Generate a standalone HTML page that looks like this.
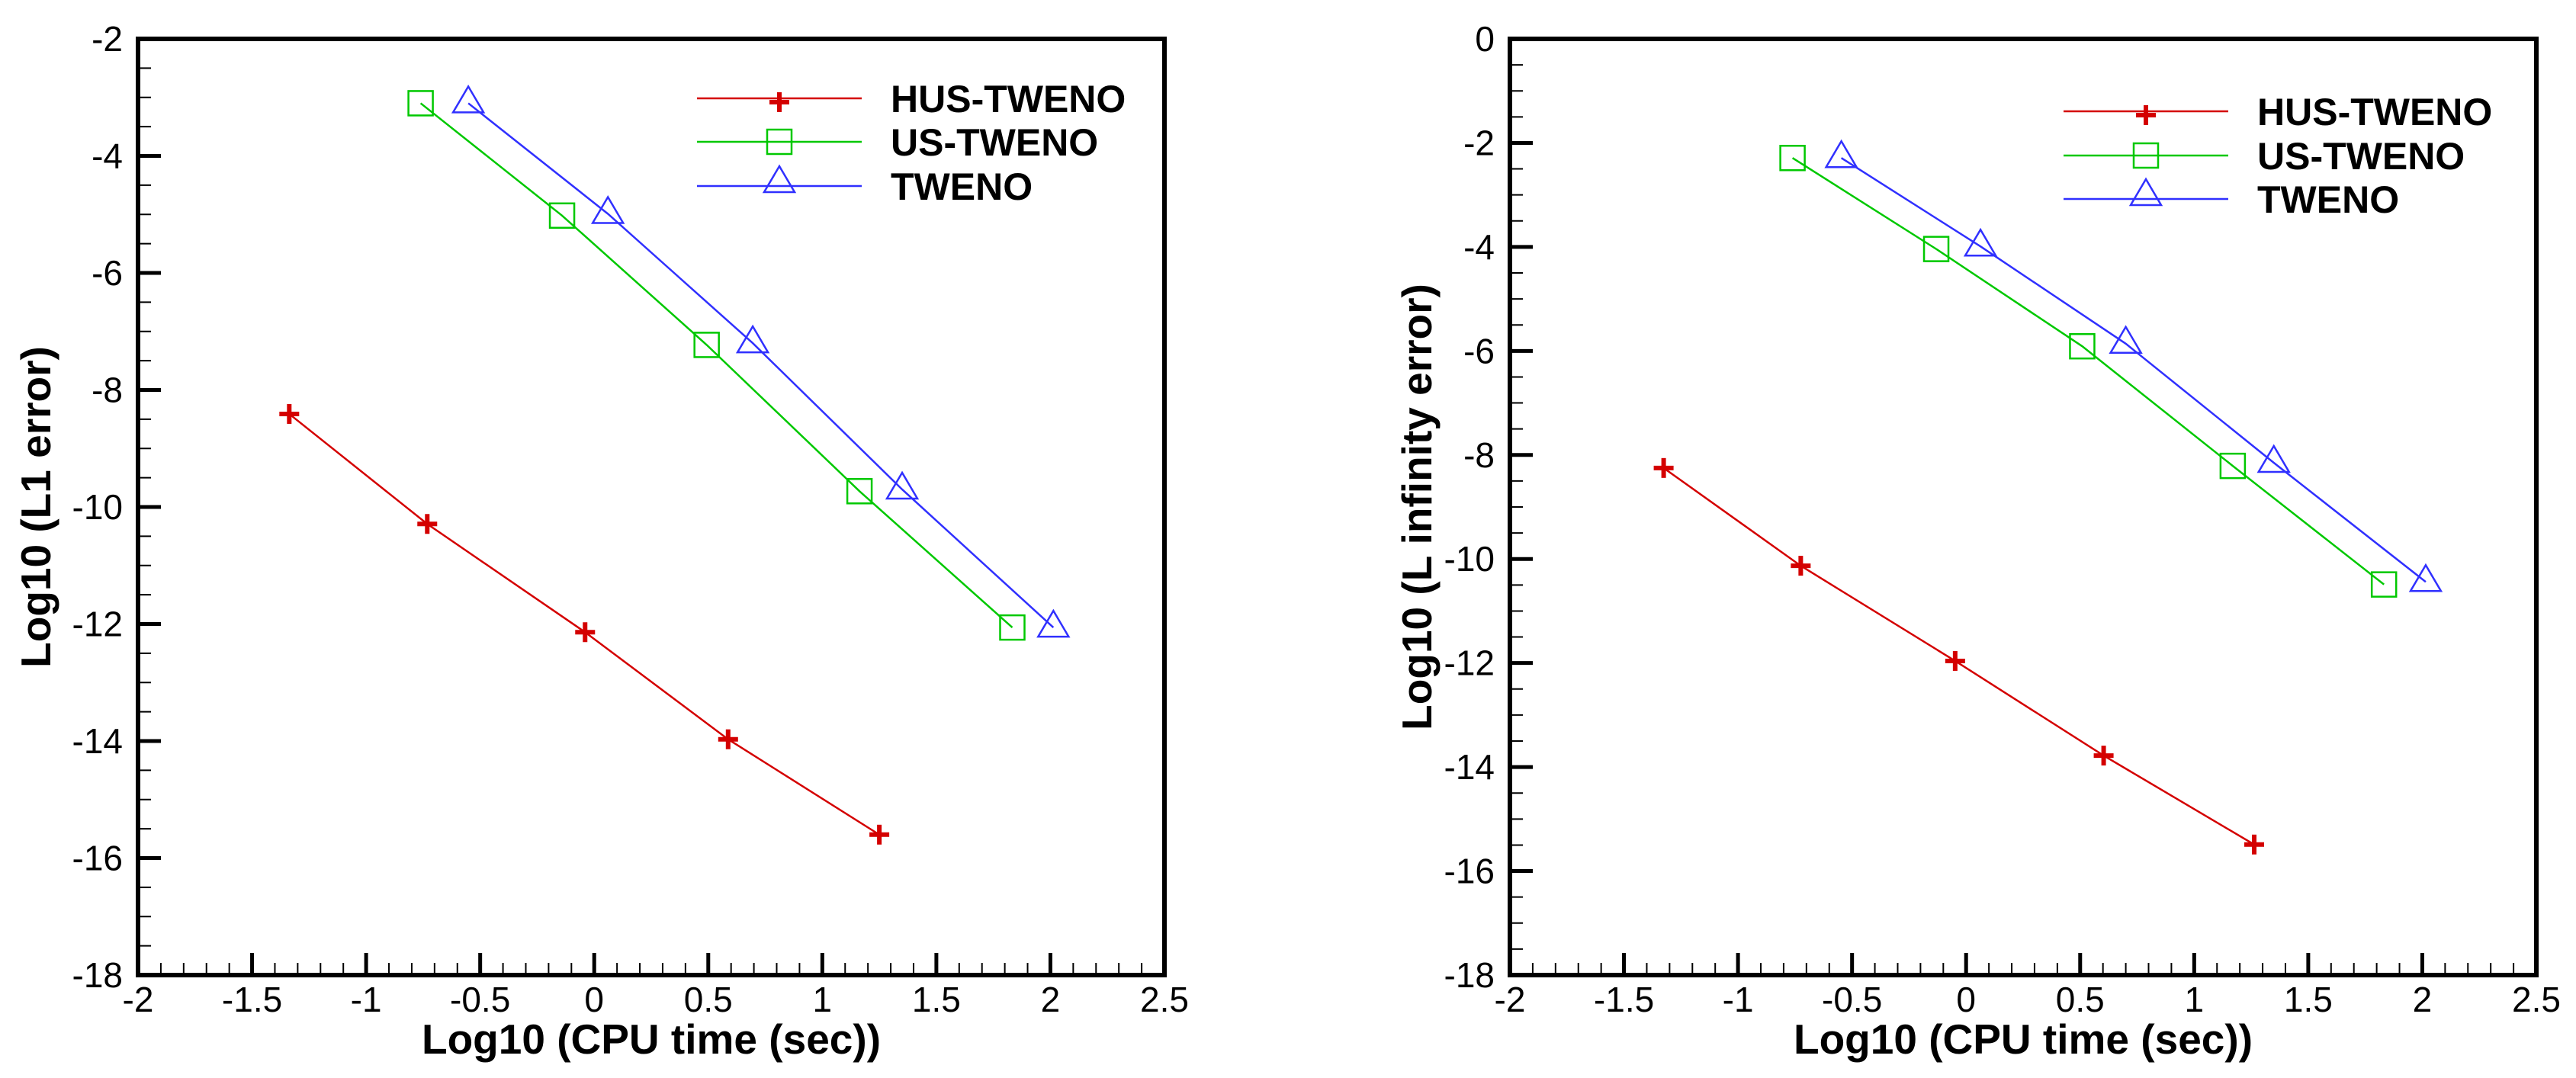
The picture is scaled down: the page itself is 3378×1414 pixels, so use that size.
<!DOCTYPE html>
<html><head><meta charset="utf-8"><style>
html,body{margin:0;padding:0;background:#fff;}
svg{display:block;font-family:"Liberation Sans",Arial,sans-serif;}
</style></head><body>
<svg id="chart" width="3378" height="1414" viewBox="0 0 3378 1414" xmlns="http://www.w3.org/2000/svg"></svg>
<script>
// ---- data ----
const seriesNames = ["HUS-TWENO", "US-TWENO", "TWENO"];
const xTicks = [-2, -1.5, -1, -0.5, 0, 0.5, 1, 1.5, 2, 2.5];
const xTickLabels = ["-2", "-1.5", "-1", "-0.5", "0", "0.5", "1", "1.5", "2", "2.5"];
const leftYTicks = [-2, -4, -6, -8, -10, -12, -14, -16, -18];
const rightYTicks = [0, -2, -4, -6, -8, -10, -12, -14, -16, -18];
// left panel (L1 error)
const l1HusX = [-1.337, -0.732, -0.04, 0.587, 1.25];
const l1HusY = [-8.41, -10.29, -12.14, -13.97, -15.6];
const l1UsX = [-0.761, -0.141, 0.493, 1.163, 1.833];
const l1UsY = [-3.1, -5.02, -7.23, -9.73, -12.06];
const l1TwX = [-0.552, 0.06, 0.695, 1.35, 2.013];
const l1TwY = [-3.1, -4.99, -7.2, -9.7, -12.06];
// right panel (L infinity error)
const liHusX = [-1.326, -0.725, -0.048, 0.603, 1.263];
const liHusY = [-8.25, -10.13, -11.96, -13.78, -15.49];
const liUsX = [-0.761, -0.131, 0.509, 1.169, 1.832];
const liUsY = [-2.29, -4.04, -5.91, -8.21, -10.49];
const liTwX = [-0.547, 0.063, 0.70, 1.349, 2.015];
const liTwY = [-2.29, -3.99, -5.86, -8.15, -10.44];

const NS = "http://www.w3.org/2000/svg";
const svg = document.getElementById("chart");
const colors = ["#d40000", "#00c800", "#3030ff"];
function mk(tag, attrs, parent) {
  const e = document.createElementNS(NS, tag);
  for (const k in attrs) e.setAttribute(k, attrs[k]);
  (parent || svg).appendChild(e);
  return e;
}
function marker(g, type, cx, cy, color) {
  if (type === 0) {
    mk("line", {x1: cx - 13, y1: cy, x2: cx + 13, y2: cy, stroke: color, "stroke-width": 6}, g);
    mk("line", {x1: cx, y1: cy - 13, x2: cx, y2: cy + 13, stroke: color, "stroke-width": 6}, g);
  } else if (type === 1) {
    mk("rect", {x: cx - 16, y: cy - 16, width: 32, height: 32, fill: "none", stroke: color, "stroke-width": 2.5}, g);
  } else {
    mk("polygon", {points: (cx) + "," + (cy - 22) + " " + (cx - 20) + "," + (cy + 12) + " " + (cx + 20) + "," + (cy + 12), fill: "none", stroke: color, "stroke-width": 2.5}, g);
  }
}
function panel(opts) {
  const L = opts.left, R = opts.left + 1346, T = 51, B = 1279;
  const xmin = -2, xmax = 2.5, ymax = opts.ymax, ymin = -18;
  const sx = v => L + (v - xmin) / (xmax - xmin) * (R - L);
  const sy = v => T + (ymax - v) / (ymax - ymin) * (B - T);
  const g = mk("g", {});
  
  
  // x ticks
  for (let i = 0; i <= 45; i++) {
    const v = xmin + i * 0.1;
    const major = i % 5 === 0;
    const t = mk("line", {x1: sx(v), x2: sx(v), y1: B, y2: B - (major ? 29 : 16), stroke: "#000", "stroke-width": major ? 5 : 2}, g);
    
    
  }
  xTicks.forEach((v, i) => {
    const t = mk("text", {x: sx(v), y: 1327, "font-size": 46, "text-anchor": "middle"}, g);
    t.textContent = xTickLabels[i];
    
    
  });
  // y ticks
  const nMinor = Math.round((ymax - ymin) / 0.5);
  for (let i = 0; i <= nMinor; i++) {
    const v = ymax - i * 0.5;
    const major = i % 4 === 0;
    const t = mk("line", {x1: L, x2: L + (major ? 30 : 17), y1: sy(v), y2: sy(v), stroke: "#000", "stroke-width": major ? 5 : 2}, g);
    
    
  }
  opts.yTicks.forEach(v => {
    const t = mk("text", {x: L - 20, y: sy(v) + 16, "font-size": 46, "text-anchor": "end"}, g);
    t.textContent = String(v);
    
    
  });
  // frame
  const f = mk("rect", {x: L, y: T, width: R - L, height: B - T, fill: "none", stroke: "#000", "stroke-width": 6}, g);
  
  
  // axis titles
  const xt = mk("text", {x: (L + R) / 2, y: 1382, "font-size": 55, "font-weight": "bold", "text-anchor": "middle"}, g);
  xt.textContent = "Log10 (CPU time (sec))";
  
  
  const yt = mk("text", {x: 0, y: 0, "font-size": 55, "font-weight": "bold", "text-anchor": "middle", transform: "translate(" + (opts.ytx + 19) + "," + ((T + B) / 2) + ") rotate(-90)"}, g);
  yt.textContent = opts.yTitle;
  
  
  // series
  opts.series.forEach((s, k) => {
    const sg = mk("g", {}, g);
    
    
    const pts = s[0].map((x, i) => sx(x) + "," + sy(s[1][i])).join(" ");
    mk("polyline", {points: pts, fill: "none", stroke: colors[k], "stroke-width": 2.5}, sg);
    s[0].forEach((x, i) => marker(sg, k, sx(x), sy(s[1][i]), colors[k]));
  });
  // legend
  const lg = mk("g", {}, g);
  
  
  seriesNames.forEach((n, k) => {
    const y = opts.legY[k];
    const eg = mk("g", {}, lg);
    
    
    mk("line", {x1: opts.legX, x2: opts.legX + 216, y1: y, y2: y, stroke: colors[k], "stroke-width": 2.5}, eg);
    marker(eg, k, opts.legX + 108, y + (k === 0 ? 5 : k === 2 ? -4 : 0), colors[k]);
    const t = mk("text", {x: opts.legX + 254, y: y + 18, "font-size": 50, "font-weight": "bold"}, eg);
    t.textContent = n;
  });
}
panel({name: "l1-error-panel", left: 181, ymax: -2, yTicks: leftYTicks, yTitle: "Log10 (L1 error)", ytx: 47,
  series: [[l1HusX, l1HusY], [l1UsX, l1UsY], [l1TwX, l1TwY]], legX: 914, legY: [129, 186, 244]});
panel({name: "linf-error-panel", left: 1980, ymax: 0, yTicks: rightYTicks, yTitle: "Log10 (L infinity error)", ytx: 1858,
  series: [[liHusX, liHusY], [liUsX, liUsY], [liTwX, liTwY]], legX: 2706, legY: [146, 204, 261]});
</script>
</body></html>
